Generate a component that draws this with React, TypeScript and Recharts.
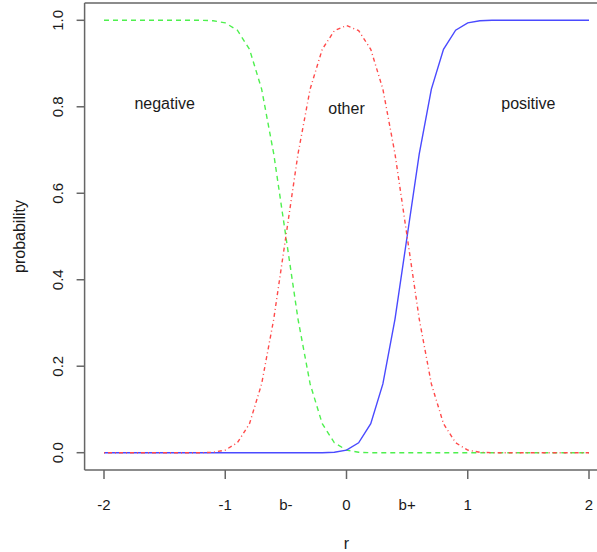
import React from 'react';
import { LineChart, Line, XAxis, YAxis, ReferenceLine, ReferenceDot } from 'recharts';

const rValues = [
  -2.0, -1.9, -1.8, -1.7, -1.6, -1.5, -1.4, -1.3, -1.2, -1.1,
  -1.0, -0.9, -0.8, -0.7, -0.6, -0.5, -0.4, -0.3, -0.2, -0.1,
  0.0, 0.1, 0.2, 0.3, 0.4, 0.5, 0.6, 0.7, 0.8, 0.9,
  1.0, 1.1, 1.2, 1.3, 1.4, 1.5, 1.6, 1.7, 1.8, 1.9, 2.0,
];

const negative = [
  1, 1, 1, 1, 1, 1, 1, 1, 1, 0.999,
  0.994, 0.977, 0.933, 0.841, 0.691, 0.5, 0.309, 0.159, 0.067, 0.023,
  0.006, 0.001, 0, 0, 0, 0, 0, 0, 0, 0,
  0, 0, 0, 0, 0, 0, 0, 0, 0, 0, 0,
];

const other = [
  0, 0, 0, 0, 0, 0, 0, 0, 0, 0.001,
  0.006, 0.023, 0.067, 0.159, 0.309, 0.5, 0.691, 0.841, 0.933, 0.976,
  0.988, 0.976, 0.933, 0.841, 0.691, 0.5, 0.309, 0.159, 0.067, 0.023,
  0.006, 0.001, 0, 0, 0, 0, 0, 0, 0, 0, 0,
];

const positive = [
  0, 0, 0, 0, 0, 0, 0, 0, 0, 0,
  0, 0, 0, 0, 0, 0, 0, 0, 0, 0.001,
  0.006, 0.023, 0.067, 0.159, 0.309, 0.5, 0.691, 0.841, 0.933, 0.977,
  0.994, 0.999, 1, 1, 1, 1, 1, 1, 1, 1, 1,
];

const xTickValues = [-2, -1, -0.5, 0, 0.5, 1, 2];
const xTickLabels = ['-2', '-1', 'b-', '0', 'b+', '1', '2'];
const yTickValues = [0, 0.2, 0.4, 0.6, 0.8, 1.0];
const yTickLabels = ['0.0', '0.2', '0.4', '0.6', '0.8', '1.0'];

const regionLabels = ['negative', 'other', 'positive'];
const regionX = [-1.5, 0, 1.5];
const regionY = [0.8, 0.79, 0.8];

const data = rValues.map((r, i) => ({
  r,
  negative: negative[i],
  other: other[i],
  positive: positive[i],
}));

const FONT = '"Liberation Sans", Arial, Helvetica, sans-serif';
const TEXT = '#1a1a1a';
const AXIS = '#666';

const XTick = (props: any) => {
  const { x, y, payload } = props;
  const v = payload.value;
  const idx = xTickValues.indexOf(v);
  const label = idx >= 0 ? xTickLabels[idx] : String(v);
  const isInt = Number.isInteger(v);
  return (
    <g>
      {isInt && <line x1={x} x2={x} y1={y - 9} y2={y} stroke={AXIS} strokeWidth={1.5} />}
      <text x={x} y={y + 30.5} textAnchor="middle" fontFamily={FONT} fontSize={15} fill={TEXT}>
        {label}
      </text>
    </g>
  );
};

const YTick = (props: any) => {
  const { x, y, payload } = props;
  const idx = yTickValues.indexOf(payload.value);
  const label = idx >= 0 ? yTickLabels[idx] : String(payload.value);
  return (
    <text
      x={0}
      y={0}
      transform={`translate(${x - 13.5}, ${y}) rotate(-90)`}
      textAnchor="middle"
      fontFamily={FONT}
      fontSize={15}
      fill={TEXT}
    >
      {label}
    </text>
  );
};

const RegionText = (label: string) => (p: any) => (
  <text x={p.cx} y={p.cy + 2.6} textAnchor="middle" fontFamily={FONT} fontSize={16} fill={TEXT}>
    {label}
  </text>
);

export default function App() {
  return (
    <div
      style={{
        position: 'absolute',
        left: 0,
        top: 0,
        width: 597,
        height: 552,
        overflow: 'hidden',
        background: '#fff',
      }}
    >
      <LineChart
        width={620}
        height={552}
        data={data}
        margin={{ top: 3, right: 11.6, bottom: 0, left: 0 }}
      >
        <XAxis
          dataKey="r"
          type="number"
          domain={[-2.16, 2.16]}
          ticks={xTickValues}
          interval={0}
          height={82}
          tickSize={9}
          tickMargin={0}
          tickLine={false}
          axisLine={{ stroke: AXIS, strokeWidth: 1.5 }}
          tick={<XTick />}
          label={{
            content: (p: any) => {
              const vb = p.viewBox;
              return (
                <text
                  x={vb.x + vb.width / 2}
                  y={vb.y + 79}
                  textAnchor="middle"
                  fontFamily={FONT}
                  fontSize={16}
                  fill={TEXT}
                >
                  r
                </text>
              );
            },
          }}
        />
        <YAxis
          type="number"
          domain={[-0.04, 1.04]}
          ticks={yTickValues}
          interval={0}
          width={84.6}
          tickSize={8}
          tickMargin={0}
          tickLine={{ stroke: AXIS, strokeWidth: 1.5 }}
          axisLine={{ stroke: AXIS, strokeWidth: 1.5 }}
          tick={<YTick />}
          label={{
            content: (p: any) => {
              const vb = p.viewBox;
              const cy = vb.y + vb.height / 2;
              return (
                <text
                  x={0}
                  y={0}
                  transform={`translate(25, ${cy}) rotate(-90)`}
                  textAnchor="middle"
                  fontFamily={FONT}
                  fontSize={16}
                  fill={TEXT}
                >
                  probability
                </text>
              );
            },
          }}
        />
        <ReferenceLine y={1.04} stroke={AXIS} strokeWidth={1.5} ifOverflow="visible" />
        <ReferenceLine x={2.16} stroke={AXIS} strokeWidth={1.5} ifOverflow="visible" />
        <Line
          type="linear"
          dataKey="negative"
          stroke="#4ef04e"
          strokeWidth={1.4}
          strokeDasharray="5 4"
          dot={false}
          activeDot={false}
          isAnimationActive={false}
        />
        <Line
          type="linear"
          dataKey="positive"
          stroke="#4a4aff"
          strokeWidth={1.4}
          dot={false}
          activeDot={false}
          isAnimationActive={false}
        />
        <Line
          type="linear"
          dataKey="other"
          stroke="#ff4a4a"
          strokeWidth={1.4}
          strokeDasharray="1 3 4 3"
          dot={false}
          activeDot={false}
          isAnimationActive={false}
        />
        {regionLabels.map((lab, i) => (
          <ReferenceDot
            key={lab}
            x={regionX[i]}
            y={regionY[i]}
            r={0}
            ifOverflow="visible"
            shape={RegionText(lab)}
          />
        ))}
      </LineChart>
    </div>
  );
}
